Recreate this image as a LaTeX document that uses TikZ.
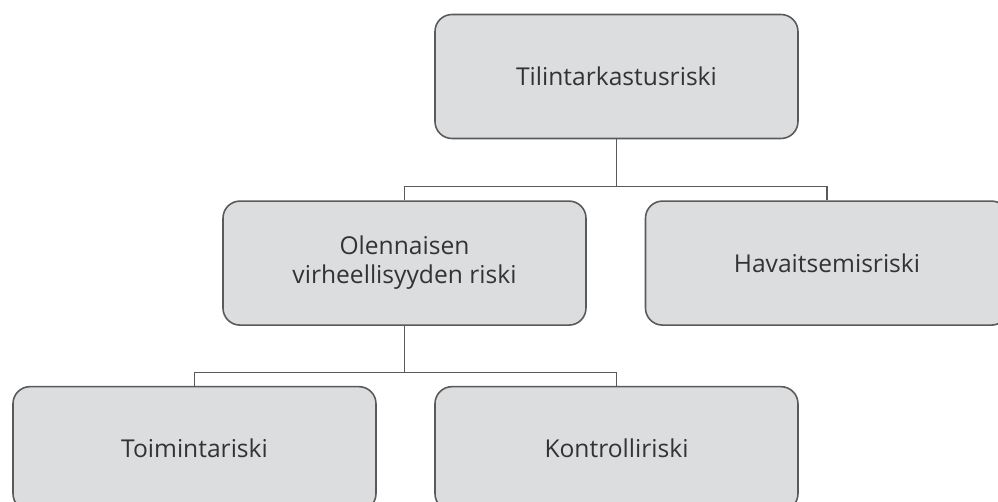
\documentclass[tikz,border=0pt]{standalone}
\usepackage{fontspec}
\setmainfont{Open Sans}
\usetikzlibrary{positioning}
\definecolor{boxfill}{HTML}{DCDDDF}
\definecolor{boxline}{HTML}{5A5A5A}
\definecolor{boxtext}{HTML}{333333}
\begin{document}
\begin{tikzpicture}[
  node distance=1.22cm and 1cm,
  riskbox/.style={draw=boxline,fill=boxfill,line width=0.9pt,rounded corners=0.34cm,
    minimum width=7.26cm,minimum height=2.48cm,align=center,text=boxtext,
    font=\fontsize{14}{16.5}\selectfont},
  link/.style={draw=boxline,line width=0.6pt}
]
\clip (-12.33,1.53) rectangle (7.63,-8.51);
\node[riskbox] (top) {Tilintarkastusriski};
\node[riskbox,below=of top,xshift=-4.24cm] (ovr) {Olennaisen\\virheellisyyden riski};
\node[riskbox,below=of top,xshift=4.21cm] (hav) {Havaitsemisriski};
\node[riskbox,below=1.2cm of ovr,xshift=-4.2cm] (toim) {Toimintariski};
\node[riskbox,below=1.2cm of ovr,xshift=4.24cm] (kontr) {Kontrolliriski};
\draw[link] (top.south) -- ++(0,-0.94) coordinate (j1) -| (ovr.north);
\draw[link] (j1) -| (hav.north);
\draw[link] (ovr.south) -- ++(0,-0.94) coordinate (j2) -| (toim.north);
\draw[link] (j2) -| (kontr.north);
\end{tikzpicture}
\end{document}
